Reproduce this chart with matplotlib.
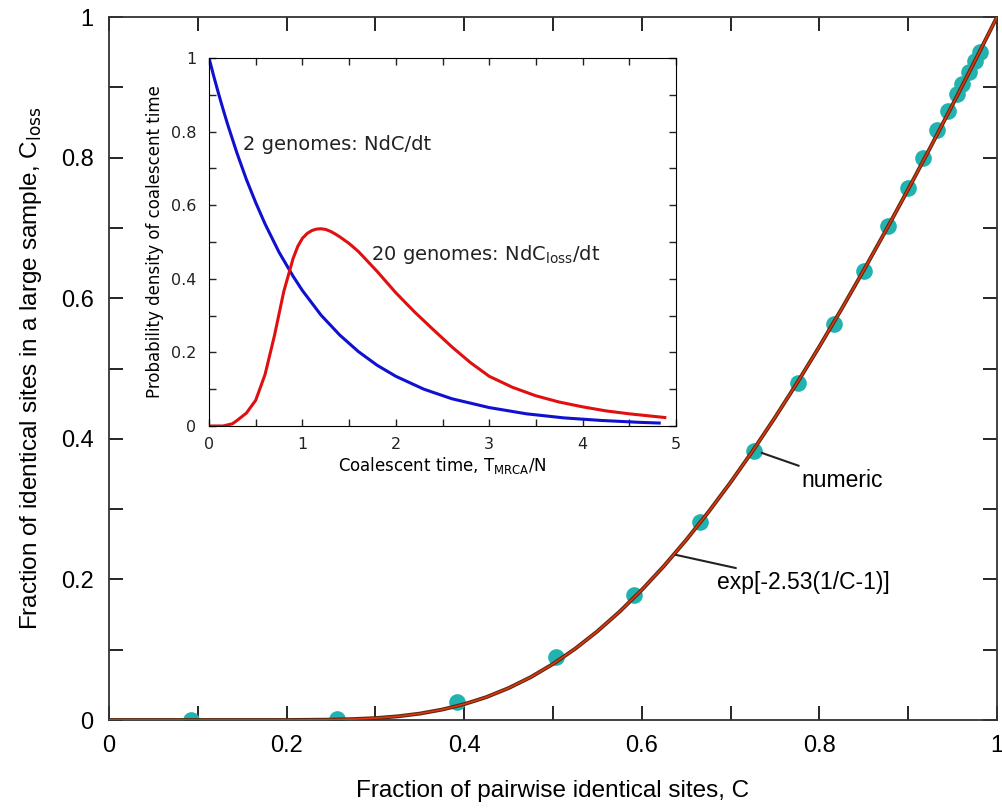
import numpy as np
import matplotlib
matplotlib.use("Agg")
import matplotlib.pyplot as plt
from matplotlib.ticker import MultipleLocator, FuncFormatter

# numeric points (C, C_loss)
num_c = [0.092, 0.257, 0.392, 0.503, 0.591, 0.666, 0.726, 0.776, 0.817, 0.850,
         0.877, 0.900, 0.917, 0.932, 0.945, 0.955, 0.961, 0.968, 0.975, 0.981]
num_cl = [0.0, 0.001, 0.025, 0.089, 0.178, 0.282, 0.382, 0.479, 0.564, 0.638,
          0.703, 0.757, 0.800, 0.839, 0.867, 0.890, 0.905, 0.922, 0.938, 0.950]

# fitted curve exp[-2.53(1/C-1)], tabulated
fit_c = [0.0, 0.1, 0.2, 0.25, 0.275, 0.3, 0.325, 0.35, 0.375, 0.4, 0.425, 0.45,
         0.475, 0.5, 0.525, 0.55, 0.575, 0.6, 0.625, 0.65, 0.675, 0.7, 0.725,
         0.75, 0.775, 0.8, 0.825, 0.85, 0.875, 0.9, 0.925, 0.95, 0.975, 1.0]
fit_cl = [0.0, 0.0, 0.0, 0.0005, 0.0013, 0.0027, 0.0052, 0.0091, 0.0148, 0.0225,
          0.0326, 0.0454, 0.0610, 0.0797, 0.1014, 0.1262, 0.1541, 0.1851, 0.2191,
          0.2561, 0.2958, 0.3381, 0.3830, 0.4303, 0.4797, 0.5313, 0.5847, 0.6399,
          0.6967, 0.7549, 0.8146, 0.8753, 0.9372, 1.0]

# inset: coalescent time densities
t_two = [0.0, 0.05, 0.1, 0.15, 0.2, 0.3, 0.4, 0.5, 0.6, 0.75, 0.9, 1.0, 1.2,
         1.4, 1.6, 1.8, 2.0, 2.3, 2.6, 3.0, 3.4, 3.8, 4.2, 4.6, 4.82]
d_two = [1.0, 0.951, 0.905, 0.861, 0.819, 0.741, 0.670, 0.607, 0.549, 0.472,
         0.407, 0.368, 0.301, 0.247, 0.202, 0.165, 0.135, 0.100, 0.074, 0.050,
         0.033, 0.022, 0.015, 0.010, 0.008]
t_twenty = [0.0, 0.15, 0.25, 0.3, 0.4, 0.5, 0.6, 0.7, 0.8, 0.9, 0.95, 1.0,
            1.05, 1.1, 1.15, 1.2, 1.25, 1.3, 1.35, 1.4, 1.5, 1.6, 1.8, 2.0,
            2.2, 2.4, 2.6, 2.8, 3.0, 3.25, 3.5, 3.75, 4.0, 4.25, 4.5, 4.88]
d_twenty = [0.0, 0.0, 0.006, 0.015, 0.035, 0.07, 0.14, 0.245, 0.365, 0.455,
            0.488, 0.51, 0.523, 0.531, 0.535, 0.536, 0.534, 0.529, 0.522,
            0.514, 0.496, 0.474, 0.42, 0.362, 0.31, 0.262, 0.215, 0.172,
            0.135, 0.105, 0.082, 0.065, 0.052, 0.041, 0.033, 0.023]

main_font = ['Liberation Sans', 'DejaVu Sans']
fmt = FuncFormatter(lambda v, p: '%g' % round(v, 3))

fig = plt.figure(figsize=(10.03, 8.10), dpi=100)
ax = fig.add_axes([0.1087, 0.1111, 0.8853, 0.8679])

ax.plot(num_c, num_cl, 'o', color='#22b2b0', markersize=12, markeredgewidth=0, zorder=2)
ax.plot(fit_c, fit_cl, color='#5a2a10', lw=2.8, zorder=3)
ax.plot(fit_c, fit_cl, color='#e03510', lw=1.2, zorder=4)

ax.set_xlim(0, 1)
ax.set_ylim(0, 1)
ax.xaxis.set_major_locator(MultipleLocator(0.2))
ax.xaxis.set_minor_locator(MultipleLocator(0.1))
ax.yaxis.set_major_locator(MultipleLocator(0.2))
ax.yaxis.set_minor_locator(MultipleLocator(0.1))
ax.xaxis.set_major_formatter(fmt)
ax.yaxis.set_major_formatter(fmt)
ax.tick_params(which='both', direction='in', top=True, right=True, width=1.2)
ax.tick_params(which='major', length=10, labelsize=17, pad=11)
ax.tick_params(which='minor', length=10)
for lab in ax.get_xticklabels() + ax.get_yticklabels():
    lab.set_family(main_font)
for s in ax.spines.values():
    s.set_linewidth(1.3)
    s.set_color('#333333')

ax.set_xlabel('Fraction of pairwise identical sites, C', fontsize=17.5,
              family=main_font, labelpad=16)
ax.set_ylabel(r'Fraction of identical sites in a large sample, C$_{\mathrm{loss}}$',
              fontsize=17.5, family=main_font, labelpad=12)

ax.annotate('numeric', xy=(0.735, 0.38), xytext=(0.78, 0.34),
            fontsize=16.5, family=main_font, va='center', ha='left',
            arrowprops=dict(arrowstyle='-', color='#222222', lw=1.5,
                            shrinkA=2, shrinkB=0))
ax.annotate('exp[-2.53(1/C-1)]', xy=(0.638, 0.235), xytext=(0.685, 0.195),
            fontsize=16.5, family=main_font, va='center', ha='left',
            arrowprops=dict(arrowstyle='-', color='#222222', lw=1.5,
                            shrinkA=2, shrinkB=0))

# inset
ins = fig.add_axes([0.2084, 0.4741, 0.4656, 0.4543])
ins.plot(t_two, d_two, color='#1010d0', lw=2.2)
ins.plot(t_twenty, d_twenty, color='#e01010', lw=2.2)
ins.set_xlim(0, 5)
ins.set_ylim(0, 1)
ins.xaxis.set_major_locator(MultipleLocator(1))
ins.xaxis.set_minor_locator(MultipleLocator(0.5))
ins.yaxis.set_major_locator(MultipleLocator(0.2))
ins.yaxis.set_minor_locator(MultipleLocator(0.1))
ins.xaxis.set_major_formatter(fmt)
ins.yaxis.set_major_formatter(fmt)
ins.tick_params(which='both', direction='in', top=True, right=True, length=5,
                width=1.0, labelsize=11.5, colors='#222222')
ins.tick_params(axis='x', pad=8)
ins.tick_params(axis='y', pad=9)
ins.set_xlabel(r'Coalescent time, T$_{\mathrm{MRCA}}$/N', fontsize=12, labelpad=2)
ins.set_ylabel('Probability density of coalescent time', fontsize=12, labelpad=5)
ins.text(0.36, 0.765, '2 genomes: NdC/dt', fontsize=14, va='center', color='#222222')
ins.text(1.73, 0.465, r'20 genomes: NdC$_{\mathrm{loss}}$/dt', fontsize=14,
         va='center', color='#222222')

fig.savefig('out.png', dpi=100)
